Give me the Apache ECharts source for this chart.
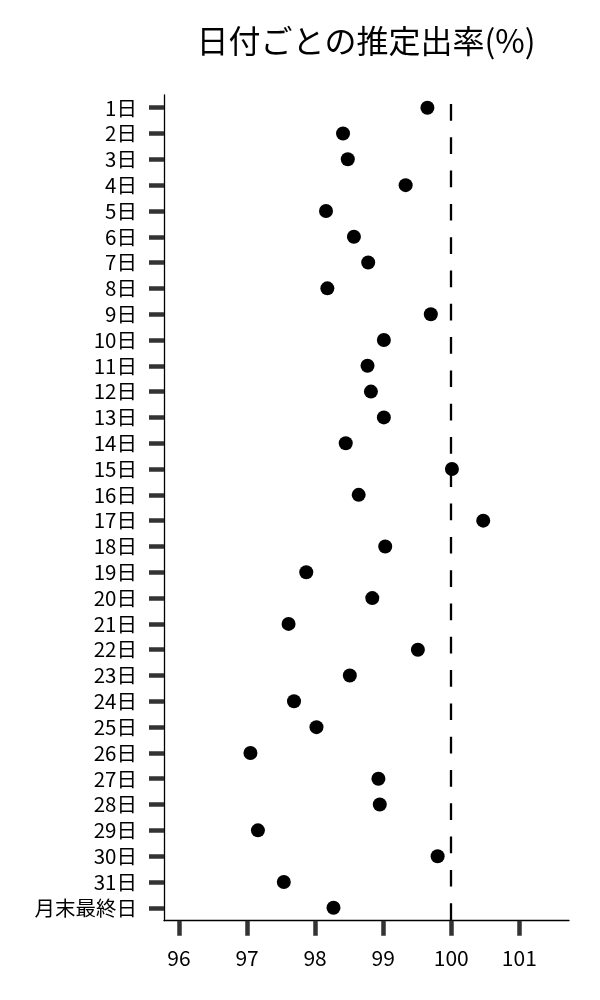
<!DOCTYPE html>
<html>
<head>
<meta charset="utf-8">
<script src="https://cdn.jsdelivr.net/npm/echarts@6/dist/echarts.min.js"></script>
<style>
  html, body { margin: 0; padding: 0; background: #fff; }
  #chart { width: 600px; height: 1000px; }
</style>
</head>
<body>
<div id="chart"></div>
<script>
// 日付ラベル
const days = [
    '1日', '2日', '3日', '4日', '5日', '6日', '7日', '8日',
    '9日', '10日', '11日', '12日', '13日', '14日', '15日', '16日',
    '17日', '18日', '19日', '20日', '21日', '22日', '23日', '24日',
    '25日', '26日', '27日', '28日', '29日', '30日', '31日', '月末最終日'
];

// 推定出率(%)
const rates = [
    99.65, 98.41, 98.48, 99.33, 98.16, 98.57, 98.78, 98.18,
    99.70, 99.01, 98.77, 98.82, 99.01, 98.45, 100.01, 98.64,
    100.47, 99.03, 97.87, 98.84, 97.61, 99.51, 98.51, 97.69,
    98.02, 97.05, 98.93, 98.95, 97.16, 99.80, 97.54, 98.27
];

const xTicks = [96, 97, 98, 99, 100, 101];
const refLine = 100;

const font = 'Noto Sans CJK JP';

const option = {
    animation: false,
    title: {
        text: '日付ごとの推定出率(%)',
        left: 361,
        top: 20,
        textAlign: 'center',
        textStyle: {
            fontFamily: font,
            fontSize: 32,
            fontWeight: 'normal',
            color: '#000'
        }
    },
    grid: {
        left: 164,
        right: 31,
        top: 94.8,
        bottom: 79.3,
        containLabel: false
    },
    xAxis: {
        type: 'value',
        min: 95.78,
        max: 101.73,
        splitLine: { show: false },
        axisLine: {
            show: true,
            lineStyle: { color: '#000', width: 1.3 }
        },
        axisTick: {
            show: true,
            length: 15,
            customValues: xTicks,
            lineStyle: { color: '#333', width: 4.5 }
        },
        axisLabel: {
            customValues: xTicks,
            margin: 27,
            fontFamily: font,
            fontSize: 21,
            color: '#000'
        }
    },
    yAxis: {
        type: 'category',
        inverse: true,
        data: days,
        axisLine: {
            show: true,
            lineStyle: { color: '#000', width: 1.3 }
        },
        axisTick: {
            show: true,
            interval: 0,
            alignWithLabel: true,
            length: 15,
            lineStyle: { color: '#333', width: 4.5 }
        },
        axisLabel: {
            interval: 0,
            margin: 27,
            fontFamily: font,
            fontSize: 20.5,
            color: '#000'
        }
    },
    series: [{
        type: 'scatter',
        data: rates.map((v, i) => [v, days[i]]),
        symbolSize: 14,
        itemStyle: { color: '#000', opacity: 1 },
        markLine: {
            silent: true,
            symbol: 'none',
            label: { show: false },
            lineStyle: {
                color: '#000',
                width: 2.3,
                type: [16.7, 16.6],
                dashOffset: 24.1
            },
            data: [{ xAxis: refLine }]
        }
    }]
};

const chart = echarts.init(document.getElementById('chart'));
chart.setOption(option);
</script>
</body>
</html>
